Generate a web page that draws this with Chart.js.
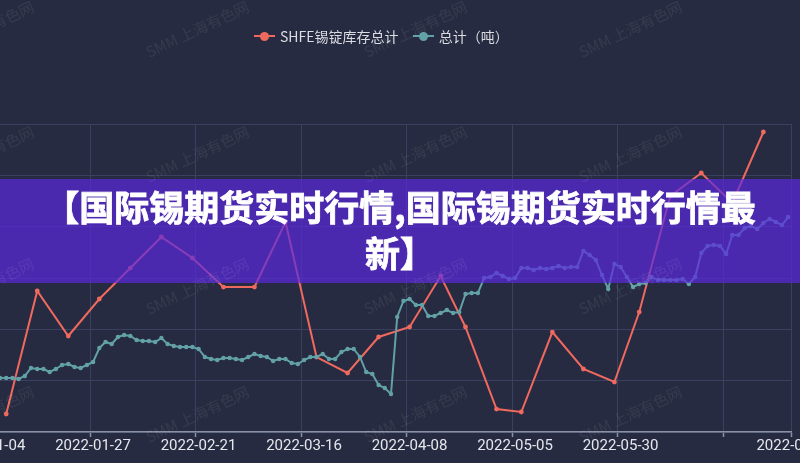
<!DOCTYPE html>
<html>
<head>
<meta charset="utf-8">
<script src="https://cdn.jsdelivr.net/npm/chart.js@4.4.1/dist/chart.umd.min.js"></script>
<style>
  html, body { margin: 0; padding: 0; width: 800px; height: 463px; overflow: hidden; background: #262b41; }
  #wrap { position: absolute; left: -80px; top: 0; width: 960px; height: 463px; }
  #legend { position: absolute; top: 26px; left: 254px; height: 20px; white-space: nowrap;
    font: 14px "Noto Sans CJK SC", sans-serif; color: #dcdde3; }
  #legend .item { display: inline-flex; align-items: center; margin-right: 11px; }
  #legend .ico { position: relative; display: inline-block; width: 21px; height: 12px; margin-right: 5px; }
  #legend .ico::before { content: ""; position: absolute; left: 0; right: 0; top: 5px; height: 2px; background: var(--c); }
  #legend .ico::after { content: ""; position: absolute; left: 6px; top: 1.5px; width: 9px; height: 9px; border-radius: 50%; background: var(--c); }
  .wm { position: absolute; width: 140px; margin-left: -70px; margin-top: -10px; text-align: center;
    font: 15px "Noto Sans CJK SC", sans-serif; color: rgba(255,255,255,0.075);
    transform: rotate(-25deg); white-space: nowrap; pointer-events: none; }
  #band { position: absolute; left: 0; top: 179px; width: 800px; height: 104px; background: rgba(91, 42, 222, 0.7); }
  #title { position: absolute; left: 0; top: 183px; width: 800px; text-align: center; color: #fff;
    font: bold 35px/46px "Noto Sans CJK SC", sans-serif; -webkit-text-stroke: 0.8px #fff; }
</style>
</head>
<body>
<div id="wrap"><canvas id="chart" width="960" height="463"></canvas></div>
<div id="legend">
  <span class="item"><i class="ico" style="--c:#f0695f"></i>SHFE锡锭库存总计</span>
  <span class="item"><i class="ico" style="--c:#62a1a6"></i>总计（吨）</span>
</div>
<div id="band"></div>
<div id="title">【国际锡期货实时行情,国际锡期货实时行情最<br>新】</div>
<div id="marks"></div>
<script>
/* x axis: one band per trading day, ticks on band edges */
var tickBounds = [0, 17, 34, 51, 68, 85, 102, 119, 130];
var tickLabels = ['2022-01-04', '2022-01-27', '2022-02-21', '2022-03-16', '2022-04-08',
                  '2022-05-05', '2022-05-30', '', '2022-07-05'];

/* SHFE weekly stock: band index of each report + value */
var redIndex = [3, 8, 13, 18, 23, 28, 33, 38, 43, 48, 53, 58, 63, 68, 73, 77, 82, 86,
                91, 96, 101, 105, 110, 115, 120, 125];
var redValues = [445, 2801, 1939, 2648, 3241, 3835, 3433, 2877, 2877, 4123, 1536, 1230,
                 1920, 2111, 3088, 2111, 540, 483, 2015, 1307, 1057, 2398, 4621, 5061, 4487, 5847];

/* daily total (t), one value per band */
var tealValues = [
  1134, 1134, 1134, 1134, 1134, 1115, 1173, 1326, 1307, 1307,
  1249, 1307, 1383, 1402, 1345, 1326, 1383, 1441, 1709, 1824,
  1786, 1920, 1958, 1939, 1862, 1843, 1843, 1824, 1900, 1786,
  1747, 1728, 1728, 1728, 1690, 1537, 1498, 1479, 1517, 1517,
  1498, 1479, 1537, 1594, 1555, 1537, 1460, 1498, 1498, 1422,
  1402, 1479, 1537, 1537, 1594, 1498, 1498, 1632, 1690, 1690,
  1537, 1249, 1211, 1000, 943, 828, 2303, 2610, 2648, 2533,
  2533, 2322, 2322, 2380, 2437, 2380, 2399, 2743, 2762, 2762,
  3050, 3069, 3146, 3088, 3031, 3050, 3242, 3242, 3203, 3242,
  3222, 3242, 3280, 3242, 3261, 3261, 3567, 3491, 3395, 3107,
  2839, 3318, 3261, 3069, 2877, 2935, 2954, 3069, 3011, 3011,
  3011, 3011, 3031, 2935, 3069, 3529, 3663, 3682, 3663, 3510,
  3874, 3874, 4008, 4046, 3989, 4104, 4180, 4123, 4066, 4218
];

var RED = '#f0695f';
var TEAL = '#62a1a6';
var GRID = '#3a4160';
var AXIS = '#8a91a6';

/* watermark grid */
var markCols = [-18, 197, 415, 630];
var markRows = [28, 153, 285, 413];
var marks = document.getElementById('marks');
markRows.forEach(function(y) {
  markCols.forEach(function(x) {
    var d = document.createElement('div');
    d.className = 'wm';
    d.style.left = x + 'px';
    d.style.top = y + 'px';
    d.textContent = 'SMM 上海有色网';
    marks.appendChild(d);
  });
});

var redPoints = redIndex.map(function(c, k) { return { x: c + 0.5, y: redValues[k] }; });
var tealPoints = tealValues.map(function(v, i) { return { x: i + 0.5, y: v }; });

new Chart(document.getElementById('chart').getContext('2d'), {
  type: 'line',
  data: {
    datasets: [
      {
        label: 'SHFE锡锭库存总计',
        data: redPoints,
        borderColor: RED,
        backgroundColor: RED,
        borderWidth: 2,
        pointRadius: 2.4,
        pointBorderWidth: 0,
        tension: 0,
        order: 2
      },
      {
        label: '总计（吨）',
        data: tealPoints,
        borderColor: TEAL,
        backgroundColor: TEAL,
        borderWidth: 2,
        pointRadius: 2.2,
        pointBorderWidth: 0,
        tension: 0,
        order: 1
      }
    ]
  },
  options: {
    responsive: false,
    animation: false,
    layout: { padding: { left: 64.5, right: 88.7, top: 124, bottom: 0 } },
    scales: {
      x: {
        type: 'linear',
        min: 0,
        max: 130,
        afterBuildTicks: function(scale) {
          scale.ticks = tickBounds.map(function(v) { return { value: v }; });
        },
        afterFit: function(scale) { scale.height = 31; },
        ticks: {
          autoSkip: false,
          maxRotation: 0,
          padding: 0,
          labelOffset: 3,
          color: '#e6e7ec',
          font: { family: 'Roboto, "Noto Sans", sans-serif', size: 15 },
          callback: function(value, index) { return tickLabels[index]; }
        },
        grid: {
          color: GRID,
          lineWidth: 1,
          borderDash: [3, 3],
          drawTicks: true,
          tickLength: 5,
          tickColor: AXIS,
          tickBorderDash: [],
          tickWidth: 1.5
        },
        border: { display: true, color: AXIS, width: 1.5 }
      },
      y: {
        type: 'linear',
        min: 100,
        max: 6000,
        afterFit: function(scale) { scale.width = 0; },
        ticks: { display: false, stepSize: 1000, includeBounds: false },
        grid: { color: GRID, lineWidth: 1, borderDash: [3, 3], drawTicks: false },
        border: { display: false }
      }
    },
    plugins: {
      legend: { display: false },
      tooltip: { enabled: false }
    }
  }
});
</script>
</body>
</html>
